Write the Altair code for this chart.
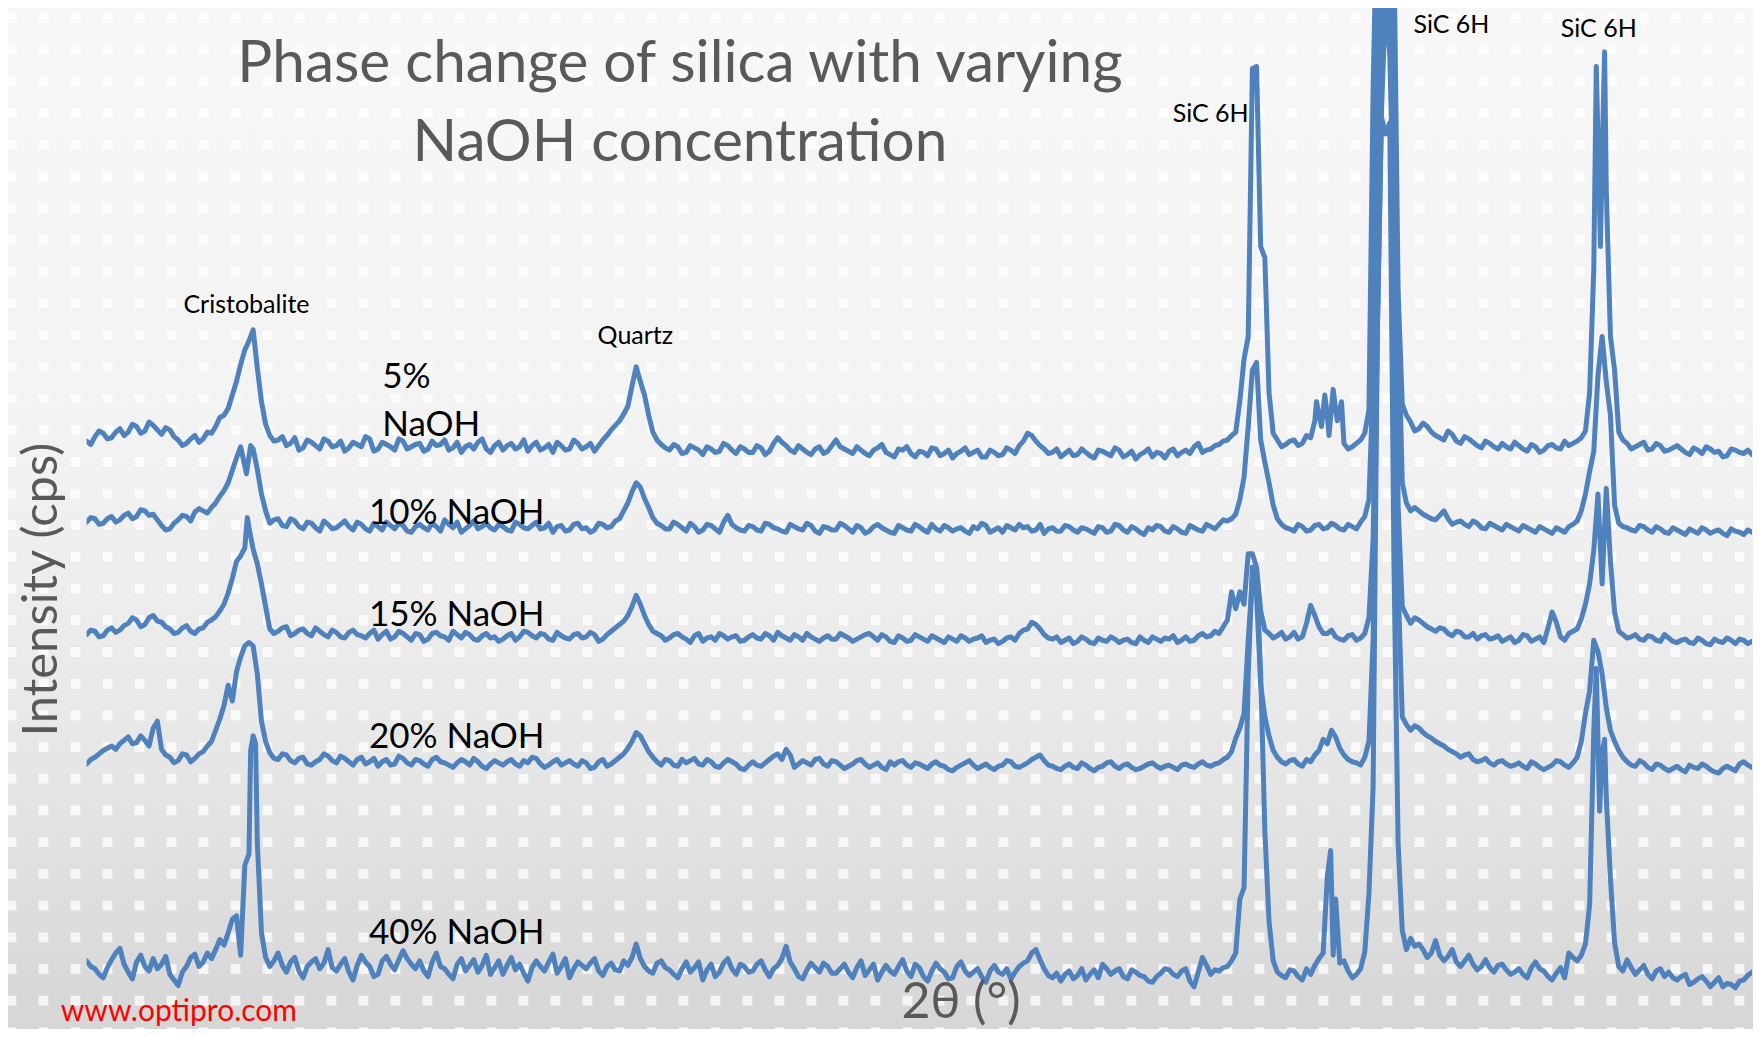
import altair as alt
import pandas as pd

# ---------------- data ----------------
# scan positions, 2-theta in degrees: whole 0.1-deg steps, the half steps between them,
# and a few finer points on the sharp peaks
two_theta = [round(20 + 0.1 * i, 1) for i in range(201)]
two_theta_mid = [round(20.05 + 0.1 * j, 2) for j in range(200)]

# intensities (arbitrary units, patterns offset as stacked in the figure); None = no reading
naoh_5 = [
    507, 511, 514, 510, 518, 515, 520, 516, 521, 513,
    517, 508, 505, 512, 509, 514, 528, 536, 560, 588,
    606, 542, 512, 508, 503, 510, 501, 506, 500, 507,
    503, 498, 506, 502, 509, 500, 504, 499, 507, 502,
    505, 500, 503, 508, 501, 497, 504, 506, 500, 503,
    499, 505, 502, 498, 506, 501, 497, 503, 500, 505,
    502, 498, 508, 517, 525, 538, 573, 548, 515, 504,
    499, 502, 497, 501, 495, 500, 498, 503, 496, 500,
    497, 501, 498, 510, 503, 497, 500, 495, 502, 498,
    508, 500, 496, 499, 494, 501, 497, 493, 499, 496,
    498, 494, 500, 496, 492, 498, 495, 499, 493, 497,
    495, 499, 503, 514, 507, 500, 497, 493, 499, 495,
    497, 492, 498, 494, 499, 495, 491, 497, 493, 496,
    498, 494, 499, 502, 497, 500, 504, 508, 515, 580,
    838, 680, 550, 508, 504, 508, 505, 510, 531, 530,
    535, 505, 502, 508, 535, 1000, 1200, 950, 540, 524,
    518, 520, 512, 508, 513, 505, 509, 503, 507, 502,
    505, 500, 503, 498, 502, 499, 504, 500, 503, 507,
    516, 660, 760, 600, 515, 505, 502, 506, 500, 503,
    499, 503, 497, 501, 496, 500, 498, 494, 499, 496,
    495]
naoh_5_mid = [
    504, 516, 509, 515, 512, 522, 514, 524, 517, 519,
    511, 503, 509, 506, 515, 520, 530, 548, 575, 596,
    572, 522, 507, 511, 505, 499, 508, 503, 509, 502,
    507, 501, 504, 511, 498, 506, 502, 509, 500, 504,
    498, 507, 504, 499, 506, 502, 500, 509, 497, 506,
    503, 500, 508, 503, 499, 504, 506, 499, 508, 500,
    505, 503, 512, 521, 531, 556, 560, 530, 508, 501,
    504, 496, 503, 499, 502, 497, 505, 499, 502, 497,
    503, 495, 505, 506, 499, 503, 497, 500, 496, 503,
    502, 498, 502, 496, 499, 504, 495, 500, 502, 493,
    497, 501, 494, 499, 496, 501, 497, 493, 499, 494,
    501, 496, 507, 512, 503, 496, 500, 496, 494, 500,
    494, 499, 496, 501, 493, 498, 495, 500, 497, 492,
    500, 497, 496, 505, 499, 503, 507, 512, 543, 600,
    840, 670, 514, 502, 507, 503, 512, 525, None, None,
    None, 500, 505, 514, 820, 1150, 1150, 640, 530, 516,
    523, 515, 510, 516, 507, 511, 506, 501, 505, 500,
    502, 506, 500, 504, 497, 503, 501, 507, 505, 510,
    550, None, 730, 570, 508, 500, 504, 499, 505, 498,
    501, 500, 495, 499, 502, 497, 493, 500, 497, 499]
naoh_5_peaks = {33.85: 543, 34.77: 542, 34.83: 520, 34.87: 548, 34.92: 512,
                34.97: 553, 35.02: 525, 35.07: 542, 38.13: 840, 38.18: 680,
                38.23: 853}

naoh_10 = [
    435, 438, 434, 440, 437, 443, 440, 445, 442, 432,
    429, 437, 440, 444, 445, 448, 458, 470, 492, 485,
    500, 460, 434, 438, 431, 436, 429, 434, 427, 433,
    430, 436, 428, 433, 427, 431, 435, 429, 432, 426,
    433, 428, 431, 437, 430, 426, 432, 429, 434, 428,
    431, 427, 433, 429, 435, 430, 426, 432, 428, 434,
    430, 428, 433, 431, 438, 452, 470, 456, 439, 432,
    429, 433, 427, 431, 428, 432, 426, 441, 430, 427,
    431, 427, 433, 429, 426, 431, 428, 432, 425, 430,
    428, 432, 426, 430, 427, 433, 428, 425, 430, 427,
    431, 426, 429, 432, 427, 430, 425, 429, 432, 428,
    426, 430, 433, 431, 428, 425, 430, 427, 431, 426,
    429, 425, 430, 427, 432, 426, 429, 424, 428, 431,
    426, 429, 425, 430, 427, 431, 433, 436, 442, 475,
    570, 508, 470, 438, 430, 427, 431, 428, 433, 430,
    432, 428, 431, 435, 455, 820, 1050, 820, 470, 445,
    445, 440, 437, 445, 433, 436, 431, 434, 429, 432,
    428, 431, 427, 430, 426, 429, 425, 428, 431, 436,
    460, 498, 600, 530, 434, 430, 427, 431, 426, 429,
    425, 428, 424, 427, 430, 425, 428, 423, 427, 424,
    426]
naoh_10_mid = [
    439, 433, 438, 435, 441, 438, 446, 441, 437, 428,
    434, 441, 436, 447, 443, 452, 463, 481, 502, None,
    482, 445, 437, 432, 438, 431, 435, 430, 436, 429,
    433, 431, 435, 429, 434, 428, 432, 434, 427, 431,
    430, 434, 427, 433, 435, 429, 436, 431, 430, 433,
    428, 435, 430, 432, 429, 434, 431, 427, 433, 429,
    426, 434, 430, 436, 445, 462, 466, 448, 434, 429,
    435, 430, 434, 426, 433, 429, 435, 433, 428, 432,
    428, 434, 430, 427, 433, 429, 434, 427, 431, 428,
    434, 429, 432, 425, 431, 430, 426, 432, 428, 433,
    428, 433, 427, 430, 429, 427, 431, 434, 426, 430,
    432, 428, 430, 427, 433, 429, 427, 432, 428, 430,
    427, 431, 426, 433, 428, 431, 426, 430, 432, 427,
    431, 426, 432, 428, 433, 429, 437, 438, 455, 520,
    577, 488, 450, 433, 429, 433, 427, 432, 429, 434,
    429, 433, 429, 440, 560, 1000, 980, 620, 452, 448,
    442, 438, 441, 438, 435, 433, 436, 430, 434, 430,
    433, 429, 432, 428, 431, 427, 430, 426, 433, 445,
    480, 565, 560, 450, 431, 428, 432, 428, 431, 426,
    430, 426, 429, 425, 428, 427, 425, 429, 426, 428]
naoh_10_peaks = {21.92: 478, 21.97: 503}

naoh_15 = [
    335, 338, 334, 341, 339, 345, 348, 344, 352, 346,
    340, 337, 343, 336, 341, 348, 356, 372, 400, 412,
    411, 380, 340, 338, 342, 336, 340, 334, 338, 333,
    337, 332, 339, 334, 336, 331, 338, 333, 336, 330,
    335, 331, 337, 333, 338, 332, 335, 330, 336, 333,
    331, 336, 333, 337, 332, 335, 330, 334, 331, 336,
    333, 335, 331, 338, 344, 352, 370, 352, 338, 334,
    332, 336, 331, 334, 329, 333, 336, 331, 334, 330,
    335, 331, 334, 337, 332, 335, 330, 333, 329, 334,
    331, 334, 329, 333, 336, 330, 333, 328, 332, 330,
    333, 329, 332, 328, 331, 334, 329, 332, 328, 331,
    329, 333, 336, 340, 344, 335, 331, 328, 332, 329,
    331, 327, 330, 333, 328, 331, 327, 330, 333, 329,
    331, 328, 333, 330, 336, 334, 336, 348, 358, 362,
    407, 356, 336, 334, 331, 337, 333, 361, 342, 336,
    333, 330, 335, 332, 350, 650, 950, 800, 360, 345,
    348, 342, 338, 340, 334, 337, 333, 331, 335, 332,
    329, 333, 330, 334, 331, 328, 355, 333, 336, 340,
    362, 410, 380, 400, 338, 332, 335, 330, 333, 329,
    332, 328, 331, 327, 330, 326, 329, 332, 327, 330,
    329]
naoh_15_mid = [
    339, 333, 339, 337, 343, 350, 342, 350, 347, 342,
    336, 341, 338, 340, 346, 351, 362, 385, 405, 430,
    398, 360, 336, 341, 334, 339, 336, 341, 335, 339,
    333, 337, 335, 332, 339, 335, 331, 338, 333, 336,
    329, 336, 334, 330, 335, 337, 331, 334, 332, 329,
    334, 330, 338, 334, 336, 331, 337, 332, 335, 332,
    337, 329, 335, 341, 347, 360, 362, 344, 336, 330,
    335, 333, 328, 336, 332, 330, 334, 333, 329, 333,
    332, 336, 330, 334, 330, 333, 336, 331, 332, 331,
    336, 332, 331, 335, 333, 335, 329, 334, 329, 335,
    331, 334, 330, 333, 329, 332, 331, 334, 330, 327,
    332, 330, 339, 346, 340, 332, 333, 330, 327, 333,
    328, 332, 329, 331, 330, 328, 333, 328, 331, 332,
    334, 330, 329, 334, 333, 338, 342, 373, 373, 407,
    395, 339, 332, 337, 333, 331, 345, 352, 336, 339,
    331, 334, 330, 336, 420, 900, 900, 450, 352, 350,
    345, 340, 341, 336, 338, 333, 336, 334, 331, 334,
    331, 328, 335, 329, 333, 341, 346, 330, 338, 349,
    380, 460, 465, 355, 335, 333, 331, 334, 330, 335,
    329, 330, 328, 332, 327, 331, 328, 330, 331, 327]
naoh_15_peaks = {21.93: 439}

naoh_20 = [
    220, 226, 232, 236, 238, 244, 239, 241, 252, 233,
    226, 223, 228, 225, 231, 240, 260, 290, 302, 325,
    325, 258, 230, 224, 228, 221, 226, 219, 224, 227,
    221, 225, 219, 226, 222, 218, 224, 220, 225, 219,
    223, 218, 226, 221, 217, 224, 219, 222, 216, 223,
    219, 224, 218, 221, 225, 217, 222, 219, 223, 218,
    221, 217, 224, 220, 226, 234, 248, 238, 226, 219,
    223, 218, 221, 225, 219, 222, 217, 224, 220, 215,
    222, 218, 224, 229, 233, 217, 223, 219, 225, 218,
    222, 216, 220, 224, 217, 221, 215, 219, 223, 217,
    220, 216, 222, 218, 214, 219, 223, 216, 220, 215,
    219, 222, 217, 221, 226, 223, 218, 215, 220, 216,
    219, 214, 218, 222, 216, 220, 215, 218, 221, 216,
    219, 215, 220, 217, 222, 218, 221, 226, 243, 265,
    385, 290, 245, 226, 220, 224, 218, 222, 232, 238,
    244, 228, 222, 219, 240, 600, 900, 700, 262, 250,
    252, 245, 240, 236, 231, 226, 229, 222, 225, 219,
    223, 218, 221, 216, 220, 215, 219, 222, 217, 226,
    265, 330, 300, 250, 232, 222, 218, 221, 215, 219,
    214, 218, 213, 217, 220, 215, 212, 218, 214, 222,
    217]
naoh_20_mid = [
    224, 229, 234, 233, 241, 238, 245, 236, 258, 228,
    221, 229, 222, 229, 236, 250, 272, 276, 315, 328,
    300, 240, 225, 229, 223, 225, 220, 222, 229, 223,
    227, 222, 224, 220, 225, 222, 219, 227, 221, 224,
    220, 224, 222, 219, 221, 222, 225, 218, 220, 221,
    222, 220, 223, 226, 220, 219, 224, 221, 220, 223,
    216, 222, 218, 223, 229, 240, 245, 231, 222, 224,
    219, 224, 223, 220, 224, 218, 221, 222, 216, 219,
    219, 221, 227, 224, 228, 220, 221, 224, 220, 223,
    219, 218, 223, 220, 219, 217, 222, 222, 219, 221,
    218, 220, 219, 215, 217, 221, 219, 218, 217, 218,
    223, 218, 219, 224, 228, 219, 216, 218, 217, 221,
    216, 217, 221, 218, 219, 217, 216, 220, 218, 218,
    217, 219, 218, 220, 219, 220, 224, 231, 252, 330,
    370, 262, 232, 222, 223, 220, 224, 228, 242, 250,
    234, 224, 221, 226, 330, 800, 850, 380, 255, 254,
    248, 243, 238, 233, 229, 228, 224, 223, 221, 222,
    220, 219, 218, 222, 217, 217, 223, 219, 221, 240,
    285, 320, 270, 240, 226, 219, 223, 217, 220, 216,
    216, 215, 219, 216, 218, 213, 216, 216, 220, 219]
naoh_20_peaks = {}

naoh_40 = [
    45, 38, 30, 46, 56, 35, 44, 40, 47, 42,
    33, 23, 40, 51, 44, 47, 64, 70, 85, 130,
    245, 70, 40, 52, 35, 48, 30, 44, 38, 55,
    36, 47, 28, 50, 40, 33, 49, 37, 54, 42,
    45, 31, 52, 38, 29, 47, 41, 35, 50, 39,
    33, 48, 42, 27, 45, 36, 51, 40, 30, 44,
    38, 47, 32, 43, 36, 41, 60, 40, 34, 45,
    37, 30, 44, 39, 28, 42, 35, 47, 33, 40,
    36, 45, 31, 41, 58, 38, 29, 43, 35, 40,
    34, 42, 30, 45, 37, 28, 41, 33, 46, 31,
    39, 27, 43, 35, 30, 44, 32, 38, 26, 41,
    33, 29, 40, 45, 55, 38, 30, 27, 36, 32,
    28, 37, 42, 33, 38, 29, 35, 31, 26, 34,
    37, 31, 38, 22, 48, 33, 36, 40, 52, 110,
    395, 300, 80, 35, 30, 36, 28, 33, 47, 120,
    100, 45, 30, 38, 105, 600, 780, 400, 72, 65,
    60, 48, 63, 45, 55, 40, 50, 37, 46, 35,
    42, 33, 38, 30, 44, 36, 28, 39, 52, 45,
    60, 250, 230, 118, 40, 46, 33, 41, 29, 38,
    35, 28, 33, 26, 31, 22, 30, 25, 21, 28,
    35]
naoh_40_mid = [
    40, 33, 39, 52, 42, 29, 50, 36, 38, 49,
    28, 35, 48, 40, 52, 55, 59, 82, 50, 140,
    150, 48, 45, 41, 44, 36, 40, 47, 43, 39,
    42, 35, 41, 44, 31, 45, 42, 46, 47, 38,
    36, 44, 40, 33, 42, 36, 46, 41, 33, 45,
    41, 37, 34, 39, 40, 44, 34, 47, 38, 41,
    43, 36, 40, 37, 45, 48, 47, 36, 43, 39,
    33, 38, 35, 44, 37, 31, 43, 38, 42, 35,
    42, 37, 38, 47, 44, 31, 37, 39, 43, 34,
    38, 35, 39, 32, 42, 35, 36, 40, 36, 42,
    31, 36, 38, 29, 40, 36, 35, 31, 36, 35,
    38, 35, 43, 52, 46, 32, 34, 33, 29, 38,
    33, 30, 38, 36, 31, 37, 32, 27, 31, 38,
    33, 36, 27, 35, 41, 37, 39, 45, 100, 300,
    390, 160, 45, 32, 37, 31, 38, 41, 52, None,
    43, 36, 33, 53, 200, 795, 790, 150, 55, 58,
    55, 52, 50, 49, 44, 45, 42, 40, 39, 41,
    37, 35, 33, 39, 38, 31, 34, 30, 48, 50,
    95, None, 190, 61, 36, 39, 37, 33, 36, 31,
    30, 31, 24, 29, 27, 26, 22, 24, 27, 32]
naoh_40_peaks = {21.97: 232, 22.03: 238, 34.94: 143, 34.97: 50, 38.13: 305,
                 38.17: 178, 38.23: 242}

series_names = ["5% NaOH", "10% NaOH", "15% NaOH", "20% NaOH", "40% NaOH"]
series_base = [naoh_5, naoh_10, naoh_15, naoh_20, naoh_40]
series_mid = [naoh_5_mid, naoh_10_mid, naoh_15_mid, naoh_20_mid, naoh_40_mid]
series_peaks = [naoh_5_peaks, naoh_10_peaks, naoh_15_peaks, naoh_20_peaks, naoh_40_peaks]

# annotation texts
peak_labels = ["Cristobalite", "Quartz", "SiC 6H", "SiC 6H", "SiC 6H"]
peak_label_t = [21.92, 26.59, 33.50, 36.39, 38.16]
peak_label_v = [621, 593, 791, 869.5, 866]

conc_labels = ["5%", "NaOH", "10% NaOH", "15% NaOH", "20% NaOH", "40% NaOH"]
conc_label_t = [23.55, 23.55, 23.39, 23.39, 23.39, 23.39]
conc_label_v = [554, 512, 433, 343, 234, 60]

title_lines = ["Phase change of silica with varying", "NaOH concentration"]
x_title = "2θ (°)"
y_title = "Intensity (cps)"
credit = "www.optipro.com"

# ---------------- build tables ----------------
rows = []
for name, base, mid, extra in zip(series_names, series_base, series_mid, series_peaks):
    pts = dict(zip(two_theta, base))
    pts.update({t: v for t, v in zip(two_theta_mid, mid) if v is not None})
    pts.update(extra)
    for t in sorted(pts):
        rows.append({"series": name, "t": t, "v": pts[t]})
df = pd.DataFrame(rows)

FONT = "Lato"
GRAY = "#595959"
W, H = 1665.4, 1003.5
xs = alt.Scale(domain=[20, 40], nice=False, zero=False)
ys = alt.Scale(domain=[0, 892], nice=False, zero=False)

def X(f):
    return alt.X(f, type="quantitative", scale=xs, axis=None)

def Y(f):
    return alt.Y(f, type="quantitative", scale=ys, axis=None)

# background (grey gradient + white dot texture)
bg = alt.Chart(alt.Data(values=[{"k": 1}])).mark_rect(
    fill=alt.LinearGradient(
        gradient="linear",
        stops=[alt.GradientStop(color="#f7f7f7", offset=0),
               alt.GradientStop(color="#f3f3f3", offset=0.4),
               alt.GradientStop(color="#e8e8e8", offset=0.7),
               alt.GradientStop(color="#d5d5d5", offset=1)],
        x1=0, x2=0, y1=0, y2=1)
).encode(x=alt.value(-90), x2=alt.value(W + 10), y=alt.value(-10), y2=alt.value(H + 30))

dots = alt.Chart(alt.sequence(0, 55 * 33, as_="i")).transform_calculate(
    px="11.5 + 32 * (datum.i % 55) - 86.6",
    py="18 + 31.7 * floor(datum.i / 55) - 8",
).mark_square(size=95, color="white", opacity=0.75).encode(
    x=alt.X("px:Q", scale=None, axis=None),
    y=alt.Y("py:Q", scale=None, axis=None),
)

lines = alt.Chart(df).mark_line(
    color="#4F81BD", strokeWidth=5, clip=True, strokeJoin="round", strokeCap="round"
).encode(x=X("t"), y=Y("v"), detail="series:N")

peak_df = pd.DataFrame({"t": peak_label_t, "v": peak_label_v, "label": peak_labels})
peaks_txt = alt.Chart(peak_df).mark_text(
    font=FONT, fontSize=25, color="black", align="center", baseline="alphabetic"
).encode(x=X("t"), y=Y("v"), text="label:N")

conc_df = pd.DataFrame({"t": conc_label_t, "v": conc_label_v, "label": conc_labels})
conc_txt = alt.Chart(conc_df).mark_text(
    font=FONT, fontSize=35, color="black", align="left", baseline="alphabetic"
).encode(x=X("t"), y=Y("v"), text="label:N")

title_df = pd.DataFrame({"t": [27.126, 27.126], "v": [826, 756], "label": title_lines})
title_txt = alt.Chart(title_df).mark_text(
    font=FONT, fontSize=58.5, color=GRAY, align="center", baseline="alphabetic"
).encode(x=X("t"), y=Y("v"), text="label:N")

xt_txt = alt.Chart(pd.DataFrame({"t": [30.50], "v": [-5.8], "label": [x_title]})).mark_text(
    font=FONT, fontSize=50, color=GRAY, align="center", baseline="alphabetic"
).encode(x=X("t"), y=Y("v"), text="label:N")

yt_txt = alt.Chart(pd.DataFrame({"t": [19.643], "v": [375], "label": [y_title]})).mark_text(
    font=FONT, fontSize=49, color=GRAY, align="center", baseline="alphabetic", angle=270
).encode(x=X("t"), y=Y("v"), text="label:N")

credit_txt = alt.Chart(pd.DataFrame({"t": [19.69], "v": [-8.4], "label": [credit]})).mark_text(
    font=FONT, fontSize=30, color="#ff0000", align="left", baseline="alphabetic"
).encode(x=X("t"), y=Y("v"), text="label:N")

chart = alt.layer(
    bg, dots, lines, peaks_txt, conc_txt, title_txt, xt_txt, yt_txt, credit_txt
).resolve_scale(x="independent", y="independent").properties(
    width=W, height=H,
    padding={"left": 78.6, "top": 0, "right": 1, "bottom": 17.5},
    autosize=alt.AutoSizeParams(type="none"),
).configure_view(stroke=None)

chart.save("out.html", embed_options={"renderer": "svg", "actions": False})
